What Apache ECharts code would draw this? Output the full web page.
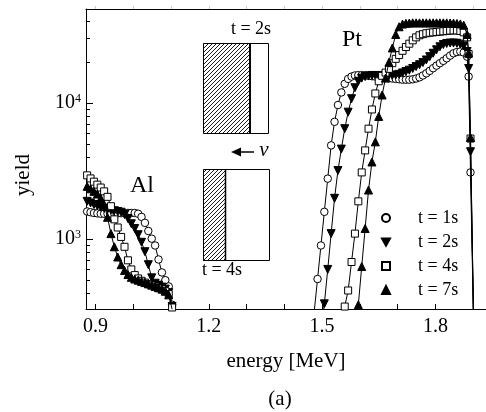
<!DOCTYPE html>
<html>
<head>
<meta charset="utf-8">
<script src="https://cdn.jsdelivr.net/npm/echarts@6/dist/echarts.min.js"></script>
<style>
html,body{margin:0;padding:0;background:#fff;}
#c{width:486px;height:412px;}
</style>
</head>
<body>
<div id="c"></div>
<script>
// ---------- data ----------
const seriesNames = ['t = 1s', 't = 2s', 't = 4s', 't = 7s'];

// Al surface region
const alE = [0.878, 0.887, 0.896, 0.905, 0.914, 0.923, 0.932, 0.941, 0.950, 0.959, 0.968, 0.977, 0.986,
             0.995, 1.004, 1.013, 1.022, 1.031, 1.040, 1.049, 1.058, 1.067, 1.076, 1.085, 1.094, 1.103];
const alY1 = [1600, 1580, 1560, 1550, 1540, 1540, 1540, 1540, 1545, 1550, 1555, 1560, 1560,
              1560, 1560, 1540, 1460, 1320, 1150, 1010, 900, 710, 570, 500, 450, 330];
const alY2 = [1900, 1850, 1800, 1760, 1720, 1690, 1660, 1640, 1620, 1600, 1580, 1520, 1420,
              1300, 1200, 1080, 950, 810, 650, 520, 475, 460, 445, 430, 405, 320];
const alY4 = [2950, 2800, 2650, 2520, 2400, 2250, 2050, 1750, 1400, 1220, 1040, 880, 700,
              600, 545, 515, 495, 480, 468, 458, 448, 438, 428, 415, 395, 315];
const alY7 = [2450, 2350, 2250, 2150, 2000, 1800, 1450, 1100, 880, 740, 650, 590, 550,
              525, 510, 500, 490, 480, 470, 460, 450, 440, 430, 415, 390, 305];

// Pt region
const ptE = [1.470, 1.479, 1.488, 1.497, 1.506, 1.515, 1.524, 1.533, 1.542, 1.551, 1.560, 1.569, 1.578,
             1.587, 1.596, 1.605, 1.614, 1.623, 1.632, 1.641, 1.650, 1.659, 1.668, 1.677, 1.686, 1.695,
             1.704, 1.713, 1.722, 1.731, 1.740, 1.749, 1.758, 1.767, 1.776, 1.785, 1.794, 1.803, 1.812,
             1.821, 1.830, 1.839, 1.848, 1.857, 1.866, 1.875, 1.884, 1.888, 1.893, 1.902];
const ptY1 = [170, 290, 510, 900, 1590, 2790, 4900, 7300, 9700, 12000, 13900, 15100, 15700,
              16000, 16100, 16100, 16000, 15900, 15800, 15700, 15600, 15500, 15400, 15300, 15200, 15100,
              15000, 14900, 14900, 14900, 15000, 15200, 15500, 16000, 16600, 17300, 18100, 18900, 19700,
              20500, 21400, 22400, 23300, 23800, 24000, 23600, 22000, 15700, 3100, 180];
const ptY2 = [null, null, null, 190, 335, 600, 1100, 2000, 3200, 4600, 6500, 8600, 10800,
              13000, 14500, 15300, 15700, 15900, 16000, 16000, 16000, 16000, 16000, 16000, 16050, 16100,
              16300, 16700, 17100, 17500, 18000, 18600, 19200, 19900, 20800, 22000, 23300, 24700, 26000,
              27000, 27500, 27700, 27700, 27600, 27200, 26400, 24000, 18000, 4400, 180];
const ptY4 = [null, null, null, null, null, null, null, null, null, 230, 320, 420, 680,
              1100, 1900, 3100, 4500, 6500, 9000, 11800, 14500, 15900, 16800, 17900, 19700, 21200,
              22600, 24300, 25900, 27400, 29000, 30500, 31600, 32200, 32700, 33000, 33200, 33400, 33600,
              33800, 34000, 34200, 34300, 34300, 34000, 33200, 30500, 23000, 5500, 180];
const ptY7 = [null, null, null, null, null, null, null, null, null, null, null, null, null,
              170, 330, 630, 1200, 2300, 3700, 5200, 8000, 11500, 15300, 20000, 25500, 32000,
              36500, 38200, 38700, 38900, 39000, 39000, 39000, 39000, 39000, 39000, 39000, 39000, 39000,
              39000, 39000, 38900, 38800, 38600, 38300, 37500, 32000, 23500, 5600, 180];

// axis ticks
const xLabelTicks = [0.9, 1.2, 1.5, 1.8];
const xMinorTicks = [0.9, 1.0, 1.1, 1.2, 1.3, 1.4, 1.5, 1.6, 1.7, 1.8, 1.9];
const yLabelTicks = [1000, 10000];
const yMinorTicks = [400, 500, 600, 700, 800, 900, 2000, 3000, 4000, 5000, 6000, 7000, 8000, 9000,
                     20000, 30000, 40000];

// ---------- build ----------
function build(alY, ptY) {
  const d = alE.map((e, i) => [e, alY[i]]);
  d.push([(alE[alE.length - 1] + ptE[0]) / 2, null]);
  ptE.forEach((e, i) => { if (ptY[i] !== null) d.push([e, ptY[i]]); });
  return d;
}

const FONT = '"Liberation Serif", "Times New Roman", serif';
const X_MIN = 0.875, X_MAX = 1.934, Y_MIN = 307, Y_MAX = 49300;

// hatch pattern
const pc = document.createElement('canvas');
pc.width = 4; pc.height = 4;
const pctx = pc.getContext('2d');
pctx.fillStyle = '#fff'; pctx.fillRect(0, 0, 4, 4);
pctx.strokeStyle = '#000'; pctx.lineWidth = 0.9;
pctx.beginPath();
pctx.moveTo(0, 4); pctx.lineTo(4, 0);
pctx.moveTo(-1, 1); pctx.lineTo(1, -1);
pctx.moveTo(3, 5); pctx.lineTo(5, 3);
pctx.stroke();
const hatch = { image: pc, repeat: 'repeat' };

const downTri = 'path://M0,0L10,0L5,9Z';

const styles = [
  { symbol: 'circle', size: 7.5, fill: '#fff', rotate: 0, icon: 'circle' },
  { symbol: 'triangle', size: 8, fill: '#000', rotate: 180, icon: downTri },
  { symbol: 'rect', size: 7, fill: '#fff', rotate: 0, icon: 'rect' },
  { symbol: 'triangle', size: 8, fill: '#000', rotate: 0, icon: 'triangle' }
];
const datasets = [build(alY1, ptY1), build(alY2, ptY2), build(alY4, ptY4), build(alY7, ptY7)];

const series = seriesNames.map((n, i) => ({
  name: n,
  type: 'line',
  data: datasets[i],
  symbol: styles[i].symbol,
  symbolSize: styles[i].size,
  symbolRotate: styles[i].rotate,
  showSymbol: true,
  showAllSymbol: true,
  connectNulls: false,
  clip: true,
  lineStyle: { color: '#000', width: 1 },
  itemStyle: { color: styles[i].fill, borderColor: '#000', borderWidth: 1 },
  emphasis: { disabled: true },
  z: 2 + i
}));

const chart = echarts.init(document.getElementById('c'), null, { renderer: 'canvas' });
chart.setOption({
  animation: false,
  backgroundColor: '#fff',
  grid: { left: 86, top: 9, right: 0, bottom: 103, containLabel: false },
  xAxis: [{
    type: 'value', position: 'bottom', min: X_MIN, max: X_MAX,
    name: 'energy [MeV]', nameLocation: 'middle', nameGap: 42,
    nameTextStyle: { fontFamily: FONT, fontSize: 21, color: '#000' },
    axisLine: { lineStyle: { color: '#000', width: 1 } },
    axisTick: { inside: true, length: 5, customValues: xMinorTicks, lineStyle: { color: '#000' } },
    axisLabel: { customValues: xLabelTicks, formatter: v => v.toFixed(1), margin: 8,
                 fontFamily: FONT, fontSize: 20, color: '#000' },
    splitLine: { show: false }
  }, {
    type: 'value', position: 'top', min: X_MIN, max: X_MAX,
    axisLine: { lineStyle: { color: '#000', width: 1 } },
    axisTick: { inside: false, length: 3, customValues: xMinorTicks, lineStyle: { color: '#ccc' } },
    axisLabel: { show: false },
    splitLine: { show: false }
  }],
  yAxis: [{
    type: 'log', logBase: 10, min: Y_MIN, max: Y_MAX, position: 'left',
    name: 'yield', nameLocation: 'middle', nameGap: 52, nameRotate: 90,
    nameTextStyle: { fontFamily: FONT, fontSize: 21, color: '#000', padding: [0, 32, 0, 0] },
    axisLine: { show: true, lineStyle: { color: '#000', width: 1 } },
    axisTick: { show: true, inside: true, length: 7, customValues: yLabelTicks, lineStyle: { color: '#000' } },
    axisLabel: {
      customValues: yLabelTicks, margin: 5,
      formatter: v => '{b|10}{s|' + Math.round(Math.log10(v)) + '}',
      rich: {
        b: { fontFamily: FONT, fontSize: 20, color: '#000', lineHeight: 20 },
        s: { fontFamily: FONT, fontSize: 12, color: '#000', verticalAlign: 'top', lineHeight: 12 }
      }
    },
    splitLine: { show: false }
  }, {
    type: 'log', logBase: 10, min: Y_MIN, max: Y_MAX, position: 'left',
    axisLine: { show: false },
    axisTick: { show: true, inside: true, length: 4, customValues: yMinorTicks, lineStyle: { color: '#000' } },
    axisLabel: { show: false },
    splitLine: { show: false }
  }],
  legend: {
    orient: 'vertical', left: 381, top: 209, padding: 0, itemWidth: 8, itemHeight: 8, itemGap: 6,
    selectedMode: false,
    data: seriesNames.map((n, i) => ({ name: n, icon: styles[i].icon })),
    textStyle: { fontFamily: FONT, fontSize: 18, color: '#000', padding: [0, 0, 0, 23] }
  },
  series: series,
  graphic: [
    { type: 'text', style: { text: 'Al', x: 142, y: 186, align: 'center', verticalAlign: 'middle',
      font: '24px ' + FONT, fill: '#000' } },
    { type: 'text', style: { text: 'Pt', x: 352, y: 40, align: 'center', verticalAlign: 'middle',
      font: '24px ' + FONT, fill: '#000' } },
    // inset diagram
    { type: 'rect', shape: { x: 203.5, y: 43.5, width: 65, height: 90 }, style: { fill: '#fff', stroke: '#000', lineWidth: 1 } },
    { type: 'rect', shape: { x: 203.5, y: 43.5, width: 46.5, height: 90 }, style: { fill: hatch, stroke: '#000', lineWidth: 1 } },
    { type: 'line', shape: { x1: 250, y1: 43.5, x2: 250, y2: 133.5 }, style: { stroke: '#000', lineWidth: 2 } },
    { type: 'rect', shape: { x: 203.5, y: 169.5, width: 66, height: 91 }, style: { fill: '#fff', stroke: '#000', lineWidth: 1 } },
    { type: 'rect', shape: { x: 203.5, y: 169.5, width: 22, height: 91 }, style: { fill: hatch, stroke: '#000', lineWidth: 1 } },
    { type: 'line', shape: { x1: 225.5, y1: 169.5, x2: 225.5, y2: 260.5 }, style: { stroke: '#000', lineWidth: 1.5 } },
    { type: 'line', shape: { x1: 238, y1: 152, x2: 254, y2: 152 }, style: { stroke: '#000', lineWidth: 1.5 } },
    { type: 'polygon', shape: { points: [[231, 152], [241, 147.5], [241, 156.5]] }, style: { fill: '#000' } },
    { type: 'text', style: { text: 'v', x: 264, y: 150, align: 'center', verticalAlign: 'middle',
      font: 'italic 21px ' + FONT, fill: '#000' } },
    { type: 'text', style: { text: 't = 2s', x: 251, y: 29, align: 'center', verticalAlign: 'middle',
      font: '18px ' + FONT, fill: '#000' } },
    { type: 'text', style: { text: 't = 4s', x: 222, y: 270, align: 'center', verticalAlign: 'middle',
      font: '18px ' + FONT, fill: '#000' } },
    { type: 'text', style: { text: '(a)', x: 280, y: 399, align: 'center', verticalAlign: 'middle',
      font: '21px ' + FONT, fill: '#000' } }
  ]
});
</script>
</body>
</html>
